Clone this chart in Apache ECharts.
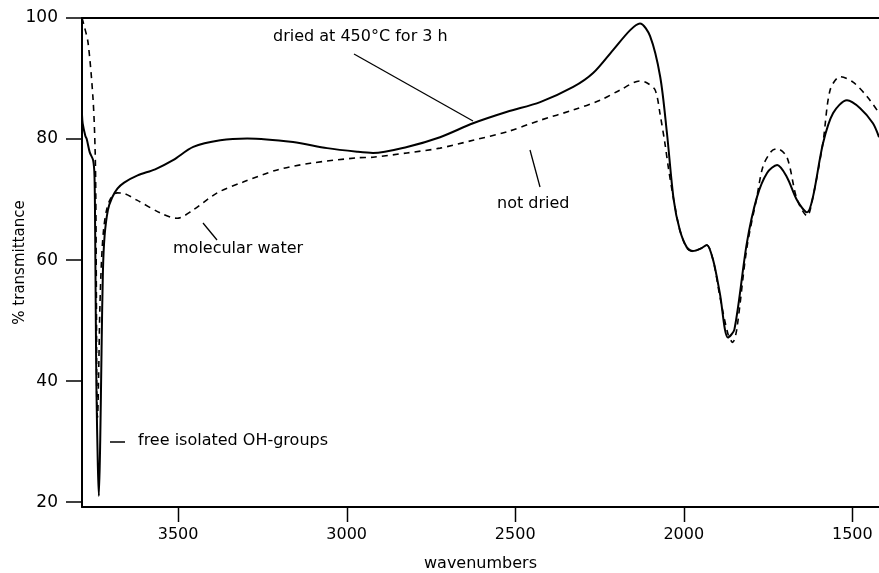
<!DOCTYPE html>
<html>
<head>
<meta charset="utf-8">
<script src="https://cdn.jsdelivr.net/npm/echarts@6/dist/echarts.min.js"></script>
<style>
html,body{margin:0;padding:0;background:#fff;}
#chart{width:879px;height:573px;}
</style>
</head>
<body>
<div id="chart"></div>
<script>
// ---- data (wavenumber in cm-1, % transmittance) ----
const xTicks = [1500, 2000, 2500, 3000, 3500];
const yTicks = [20, 40, 60, 80, 100];

const driedWn = [3785, 3783, 3775, 3771, 3762, 3752, 3748, 3746, 3744, 3742, 3738, 3735, 3731, 3727, 3723, 3718, 3708, 3696, 3680, 3660, 3620, 3568, 3515, 3455, 3375, 3295, 3159, 3058, 2969, 2922, 2821, 2723, 2625, 2524, 2426, 2328, 2269, 2210, 2159, 2130, 2100, 2070, 2050, 2030, 2012, 1991, 1973, 1950, 1932, 1913, 1893, 1869, 1850, 1813, 1783, 1753, 1723, 1694, 1664, 1634, 1617, 1587, 1557, 1516, 1477, 1439, 1421];
const driedT  = [84, 82.6, 80.5, 80, 77.8, 76.5, 74, 65, 50, 38, 26, 21, 30, 45, 58, 64, 68.3, 70.3, 71.8, 72.8, 74.0, 75.0, 76.5, 78.7, 79.8, 80.1, 79.5, 78.5, 77.9, 77.7, 78.7, 80.3, 82.6, 84.5, 86.1, 88.6, 90.9, 94.7, 98, 99.1, 97, 90.3, 81, 70, 65, 62.1, 61.5, 61.9, 62.5, 60, 54.5, 47.2, 48.5, 62.8, 70.4, 74.4, 75.7, 73.7, 69.9, 67.9, 70.4, 79.3, 84.3, 86.4, 85.1, 82.6, 80.3];

const wetWn = [3785, 3780, 3767, 3752, 3746, 3744, 3742, 3741, 3739, 3736, 3732, 3727, 3721, 3712, 3700, 3681, 3660, 3622, 3553, 3503, 3455, 3384, 3307, 3206, 3108, 2969, 2922, 2821, 2723, 2625, 2524, 2426, 2328, 2248, 2189, 2130, 2110, 2085, 2070, 2056, 2045, 2030, 2012, 1991, 1973, 1950, 1932, 1913, 1893, 1869, 1855, 1843, 1813, 1783, 1765, 1740, 1723, 1694, 1664, 1634, 1617, 1587, 1566, 1536, 1498, 1456, 1421];
const wetT  = [100, 99, 95.9, 86.4, 78, 70, 50, 36, 34, 40, 52, 60, 65, 68.3, 70.2, 71.1, 71, 69.9, 67.8, 66.9, 68.3, 71.1, 72.9, 74.9, 76, 76.9, 77, 77.7, 78.5, 79.8, 81.2, 83.1, 84.8, 86.4, 88.1, 89.6, 89.3, 88.1, 84, 79.3, 75, 70, 65, 62, 61.4, 61.9, 62.5, 60, 54, 47.8, 46.4, 48.5, 62, 70.5, 75.5, 78, 78.4, 77, 70, 67.3, 70.4, 79.5, 88.1, 90.3, 89.4, 87, 84.3];

const zip = (a, b) => a.map((v, i) => [v, b[i]]);

const FONT = 'DejaVu Sans';
const chart = echarts.init(document.getElementById('chart'), null, {renderer: 'canvas'});

const option = {
  animation: false,
  backgroundColor: '#ffffff',
  grid: {left: 82, right: 0, top: 18, bottom: 66, containLabel: false, outerBoundsMode: 'none'},
  xAxis: [{
    type: 'value', inverse: true, min: 1421, max: 3785,
    position: 'bottom',
    name: 'wavenumbers', nameLocation: 'middle', nameGap: 49, nameMoveOverlap: false,
    nameTextStyle: {fontFamily: FONT, fontSize: 16, color: '#000'},
    axisLine: {show: true, onZero: false, lineStyle: {color: '#000', width: 2}},
    axisTick: {show: false},
    axisLabel: {show: true, margin: 20, customValues: xTicks, formatter: v => String(v), fontFamily: FONT, fontSize: 16, color: '#000'},
    splitLine: {show: false}
  }, {
    type: 'value', inverse: true, min: 1421, max: 3785,
    position: 'top',
    axisLine: {show: true, onZero: false, lineStyle: {color: '#000', width: 2}},
    axisTick: {show: false}, axisLabel: {show: false}, splitLine: {show: false}
  }],
  yAxis: {
    type: 'value', min: 19.2, max: 100,
    name: '% transmittance', nameLocation: 'middle', nameGap: 54, nameRotate: 90, nameMoveOverlap: false,
    nameTextStyle: {fontFamily: FONT, fontSize: 15, color: '#000'},
    axisLine: {show: true, onZero: false, lineStyle: {color: '#000', width: 2}},
    axisTick: {show: true, inside: false, length: 16, customValues: yTicks, lineStyle: {color: '#000', width: 1.5}},
    axisLabel: {show: true, margin: 24, customValues: yTicks, formatter: v => String(v), fontFamily: FONT, fontSize: 17, color: '#000'},
    splitLine: {show: false}
  },
  series: [{
    name: 'dried at 450°C for 3 h', type: 'line', xAxisIndex: 0,
    data: zip(driedWn, driedT), showSymbol: false, symbol: 'none',
    smooth: 0.3,
    lineStyle: {color: '#000', width: 2, type: 'solid'}, z: 3
  }, {
    name: 'not dried', type: 'line', xAxisIndex: 0,
    data: zip(wetWn, wetT), showSymbol: false, symbol: 'none',
    smooth: 0.3,
    lineStyle: {color: '#000', width: 1.6, type: [6, 5]}, z: 2
  }],
  graphic: [
    {type: 'text', left: 273, top: 29, style: {text: 'dried at 450°C for 3 h', font: '16px "DejaVu Sans"', fill: '#000'}},
    {type: 'line', shape: {x1: 354, y1: 54, x2: 473, y2: 121}, style: {stroke: '#000', lineWidth: 1.3}},
    {type: 'text', left: 497, top: 196, style: {text: 'not dried', font: '16px "DejaVu Sans"', fill: '#000'}},
    {type: 'line', shape: {x1: 530, y1: 150, x2: 540, y2: 187}, style: {stroke: '#000', lineWidth: 1.3}},
    {type: 'text', left: 173, top: 241, style: {text: 'molecular water', font: '16px "DejaVu Sans"', fill: '#000'}},
    {type: 'line', shape: {x1: 203, y1: 223, x2: 217, y2: 240}, style: {stroke: '#000', lineWidth: 1.3}},
    {type: 'line', shape: {x1: 110, y1: 442, x2: 125, y2: 442}, style: {stroke: '#000', lineWidth: 1.5}},
    {type: 'text', left: 138, top: 433, style: {text: 'free isolated OH-groups', font: '16px "DejaVu Sans"', fill: '#000'}}
  ]
};
chart.setOption(option);

// x-axis tick marks placed through the axis scale
const yBase = chart.convertToPixel({yAxisIndex: 0}, 19.2);
const tickMarks = xTicks.map(v => {
  const px = Math.round(chart.convertToPixel({xAxisIndex: 0}, v)) + 0.5;
  return {type: 'line', shape: {x1: px, y1: yBase, x2: px, y2: yBase + 15}, style: {stroke: '#000', lineWidth: 1.5}};
});
chart.setOption({graphic: option.graphic.concat(tickMarks)});
</script>
</body>
</html>
